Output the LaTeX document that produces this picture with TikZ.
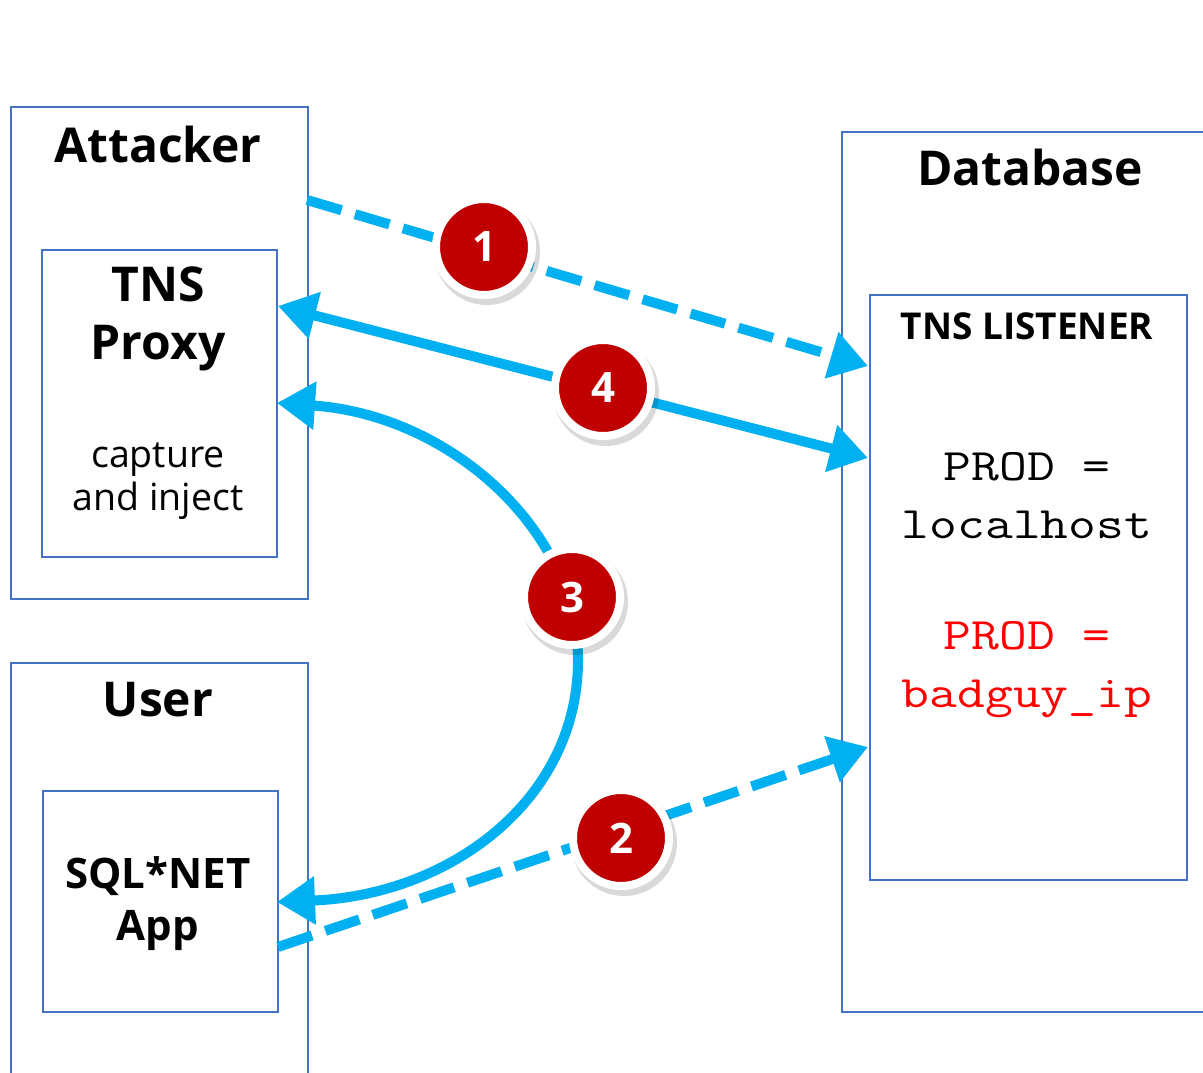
\documentclass[tikz,border=0pt]{standalone}
\usepackage{fontspec}
\setmainfont{Open Sans}
\usetikzlibrary{arrows.meta}
\definecolor{boxblue}{HTML}{4472C4}
\definecolor{arrowblue}{HTML}{00B0F0}
\definecolor{badge}{HTML}{C00000}
\definecolor{prodred}{HTML}{FF0000}
\newcommand{\wideline}[1]{\scalebox{1.2}[1]{#1}}
\tikzset{
  box/.style={draw=boxblue, line width=1.6pt, anchor=north west, inner sep=0pt},
  title/.style={font=\fontsize{48}{56}\selectfont\bfseries, align=center},
  conn/.style={arrowblue, line width=10pt, -{Triangle[length=38pt,width=46pt]}},
  dbl/.style={arrowblue, line width=10pt, {Triangle[length=38pt,width=46pt]}-{Triangle[length=38pt,width=46pt]}},
  dsh/.style={dash pattern=on 36pt off 14pt},
  badgenode/.style={circle, fill=badge, draw=white, line width=8pt, minimum size=96pt, inner sep=0pt, text=white, font=\fontsize{42}{46}\selectfont\bfseries},
  shadownode/.style={circle, fill=black, opacity=0.15, minimum size=106pt, inner sep=0pt},
  monotext/.style={align=center, font=\ttfamily\fontsize{45}{58}\selectfont}
}
\begin{document}
\begin{tikzpicture}[x=1pt,y=-1pt]
\useasboundingbox (0,0) rectangle (1203,1073);
% boxes
\node[box, minimum width=297pt, minimum height=492pt] (attacker) at (10,106) {};
\node[box, minimum width=235pt, minimum height=307pt] (proxy) at (41,249) {};
\node[box, minimum width=297pt, minimum height=430pt] (user) at (10,662) {};
\node[box, minimum width=235pt, minimum height=221pt] (app) at (42,790) {};
\node[box, minimum width=400pt, minimum height=880pt] (db) at (841,131) {};
\node[box, minimum width=317pt, minimum height=585pt] (listener) at (869,294) {};
% texts
\node[title] (tA) at (158,144) {Attacker};
\node[title] (tD) at (1030,167) {Database};
\node[title] (tU) at (158,700) {User};
\node[title, font=\fontsize{48}{58}\selectfont\bfseries] (tP) at (158,319) {TNS\\Proxy};
\node[align=center, font=\fontsize{37.5}{43}\selectfont] (tC) at (158,481) {capture\\and inject};
\node[align=center, font=\fontsize{42}{52}\selectfont\bfseries] (tS) at (158,904) {SQL*NET\\App};
\node[font=\fontsize{37}{42}\selectfont\bfseries] (tL) at (1027,326) {TNS LISTENER};
\node[monotext] (tP1) at (1027,496) {\wideline{PROD =}\\\wideline{localhost}};
\node[monotext, text=prodred] (tP2) at (1027,670) {\wideline{PROD =}\\\wideline{badguy\_ip}};
% connector endpoints
\coordinate (a1s) at (307,200);
\coordinate (a1e) at (868,366);
\coordinate (a4s) at (278,306);
\coordinate (a4e) at (868,458);
\coordinate (a3s) at (277,403);
\coordinate (a3m) at (578,660);
\coordinate (a3e) at (277,902);
\coordinate (a2s) at (278,947);
\coordinate (a2e) at (868,747);
% connectors
\draw[conn, dsh] (a1s) -- (a1e);
\draw[dbl] (a4s) -- (a4e);
\draw[dbl] (a3s) .. controls (450,415) and (578,530) .. (a3m) .. controls (578,800) and (450,895) .. (a3e);
\draw[conn, dsh] (a2s) -- (a2e);
% badges
\node[shadownode] at (487,252) {};
\node[badgenode] (b1) at (484,247) {1};
\node[shadownode] at (606,393) {};
\node[badgenode] (b4) at (603,388) {4};
\node[shadownode] at (575,602) {};
\node[badgenode] (b3) at (572,597) {3};
\node[shadownode] at (624,843) {};
\node[badgenode] (b2) at (621,838) {2};
\end{tikzpicture}
\end{document}
